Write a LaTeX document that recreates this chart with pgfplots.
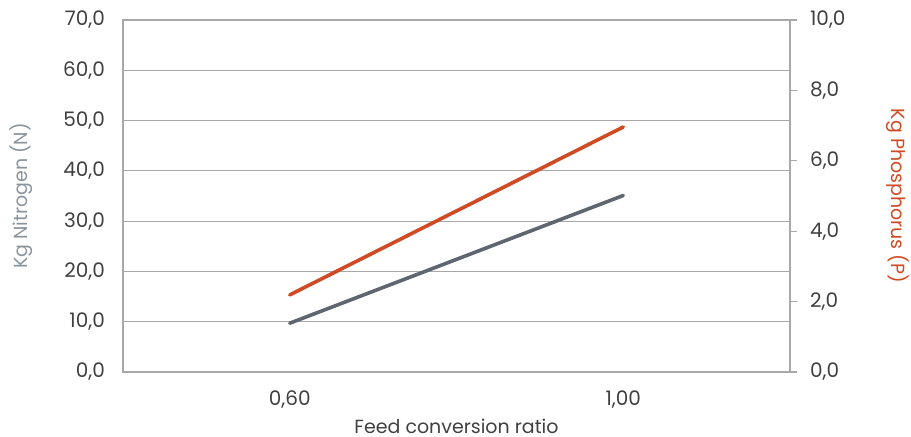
\documentclass[border=0pt]{standalone}
\usepackage{pgfplots}
\pgfplotsset{compat=1.18}
\usepackage{fontspec}
\setmainfont{Poppins}

\definecolor{nline}{HTML}{5E6670}
\definecolor{pline}{HTML}{D04A23}
\definecolor{gridc}{HTML}{A8A8A8}
\definecolor{ticktext}{HTML}{404040}
\definecolor{nlabel}{HTML}{8A949E}

\begin{document}
\begin{tikzpicture}[font=\fontsize{9.5}{11}\selectfont]
	\pgfplotsset{
		common/.style={
			scale only axis,
			width=333.5pt,
			height=176pt,
			xmin=-0.5, xmax=1.5,
			ymin=0,
			tick label style={ticktext, font=\fontsize{10}{12}\selectfont},
			yticklabel style={
				/pgf/number format/fixed,
				/pgf/number format/fixed zerofill,
				/pgf/number format/precision=1,
				/pgf/number format/use comma,
				/pgf/number format/assume math mode=true,
			},
		},
	}

	%% left axis: nitrogen
	\begin{axis}[
		common,
		name=ax1,
		ymax=70,
		ytick distance=10,
		xtick={0,1},
		xticklabels={{0,60},{1,00}},
		major tick length=0pt,
		ymajorgrids,
		grid style={gridc, line width=0.6pt},
		axis line style={gridc, line width=0.6pt},
		yticklabel style={xshift=-5.5pt},
		xticklabel style={yshift=-6pt},
		xlabel={Feed conversion ratio},
		xlabel style={ticktext, at={(axis description cs:0.5,-0.174)}, anchor=base},
		ylabel={Kg Nitrogen (N)},
		ylabel style={nlabel, at={(axis description cs:-0.153,0.5)}, anchor=center},
	]
		\addplot[nline, line width=1.8pt, line cap=round] coordinates {
			(0, 9.7)
			(1, 35.1)
		};
	\end{axis}

	%% right axis: phosphorus
	\begin{axis}[
		common,
		ymax=10,
		ytick distance=2,
		axis y line*=right,
		axis x line=none,
		tick align=outside,
		major tick length=3.5pt,
		every tick/.style={gridc, line width=0.6pt},
		axis line style={gridc, line width=0.6pt},
		yticklabel style={xshift=3pt},
		ylabel={Kg Phosphorus (P)},
		ylabel style={pline, at={(axis description cs:1.162,0.5)}, anchor=center, rotate=180},
	]
		\addplot[pline, line width=1.8pt, line cap=round] coordinates {
			(0, 2.19)
			(1, 6.96)
		};
	\end{axis}

	\pgfresetboundingbox
	\path[use as bounding box]
		([shift={(-61.5pt,-32.5pt)}]ax1.south west)
		rectangle ([shift={(394pt,186pt)}]ax1.south west);
\end{tikzpicture}
\end{document}
